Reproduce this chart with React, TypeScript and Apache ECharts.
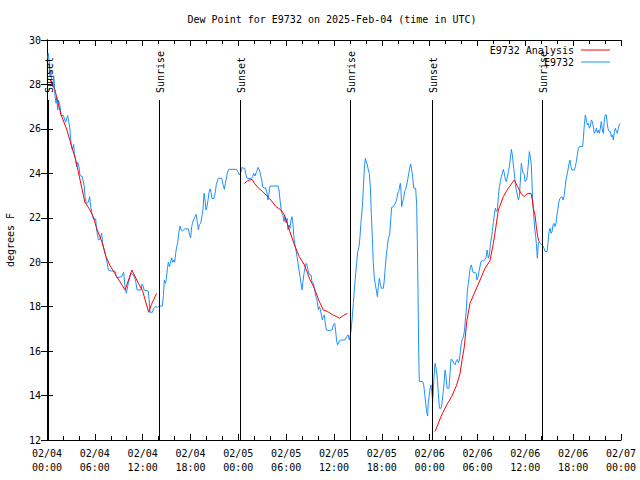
import React, { useEffect, useRef } from "react";
import * as echarts from "echarts";

const titleText = "Dew Point for E9732 on 2025-Feb-04 (time in UTC)";
const xTickLabels = [
  "02/04\n00:00", "02/04\n06:00", "02/04\n12:00", "02/04\n18:00",
  "02/05\n00:00", "02/05\n06:00", "02/05\n12:00", "02/05\n18:00",
  "02/06\n00:00", "02/06\n06:00", "02/06\n12:00", "02/06\n18:00",
  "02/07\n00:00",
];
const eventHours = [0.15, 14.08, 24.25, 38.05, 48.35, 62.15];
const eventLabels = ["Sunset", "Sunrise", "Sunset", "Sunrise", "Sunset", "Sunrise"];
const eventTop = 27.3;

// hours since 02/04 00:00 UTC, degrees F
const analysisSeg1: [number, number][] = [
  [0.35, 28.25], [1.0, 27.75], [1.2, 27.45], [1.75, 26.65], [2.5, 25.95], [3.1, 25.2],
  [3.6, 24.6], [4.15, 23.7], [4.75, 22.7], [5.4, 22.35], [5.8, 22.05], [6.25, 21.5],
  [6.9, 20.9], [7.4, 20.25], [7.9, 19.85], [8.75, 19.35], [9.8, 18.75], [10.65, 19.65],
  [11.4, 19.1], [12.0, 18.7], [12.75, 17.75], [13.1, 18.1], [13.75, 18.6],
];
const analysisSeg2: [number, number][] = [
  [24.76, 23.55], [25.17, 23.67], [25.72, 23.73], [26.01, 23.55], [26.55, 23.33],
  [27.05, 23.18], [27.89, 22.88], [28.73, 22.5], [29.35, 22.35], [29.77, 22.13],
  [30.4, 21.45], [31.03, 20.78], [31.65, 20.25], [32.28, 19.88], [32.91, 19.28],
  [33.53, 18.83], [34.16, 18.23], [34.66, 17.85], [35.21, 17.78], [35.83, 17.63],
  [36.34, 17.55], [36.67, 17.48], [37.17, 17.6], [37.67, 17.7],
];
const analysisSeg3: [number, number][] = [
  [48.67, 12.38], [49.51, 13.13], [50.14, 13.58], [50.76, 13.95], [51.39, 14.48],
  [51.81, 15.0], [52.1, 15.68], [52.35, 16.2], [52.65, 17.33], [53.06, 18.15],
  [53.69, 18.68], [54.32, 19.2], [54.95, 19.73], [55.57, 20.07], [55.99, 20.85],
  [56.28, 21.53], [56.62, 22.35], [57.24, 22.95], [57.87, 23.33], [58.37, 23.58],
  [58.62, 23.7], [59.04, 23.4], [59.46, 23.1], [59.84, 22.95], [60.17, 23.07],
  [60.71, 23.1], [60.88, 22.8], [61.0, 22.43], [61.21, 22.13], [61.38, 21.6],
  [61.55, 21.15], [61.72, 20.93],
];

const observed: [number, number][] = [
  [0.05, 29.1], [0.17, 29.4], [0.29, 28.95], [0.38, 28.35], [0.5, 28.6], [0.59, 28.05],
  [0.75, 27.9], [0.84, 28.4], [0.92, 28.05], [1.0, 27.5], [1.13, 27.15], [1.21, 27.45],
  [1.34, 26.85], [1.42, 27.3], [1.59, 27.15], [1.76, 26.6], [2.05, 26.6], [2.34, 26.3],
  [2.59, 26.6], [2.76, 26.25], [2.89, 25.95], [3.01, 25.35], [3.18, 25.05], [3.35, 25.3],
  [3.43, 24.9], [3.6, 24.6], [3.72, 24.3], [3.85, 24.5], [4.01, 24.3], [4.14, 23.9],
  [4.43, 23.85], [4.68, 23.4], [4.77, 22.95], [4.93, 22.65], [5.18, 22.7], [5.35, 22.95],
  [5.48, 22.5], [5.64, 22.2], [5.81, 21.95], [6.1, 21.95], [6.23, 21.45], [6.44, 21.0],
  [6.65, 21.05], [6.86, 21.3], [6.98, 20.85], [7.15, 20.6], [7.36, 20.3], [7.53, 20.0],
  [7.69, 19.65], [8.11, 19.6], [8.53, 19.6], [8.74, 19.3], [9.36, 19.35], [9.62, 19.55],
  [9.78, 18.9], [9.95, 18.6], [10.2, 19.05], [10.5, 19.5], [10.8, 19.45], [11.1, 19.2],
  [11.3, 18.75], [11.8, 18.75], [11.9, 19.0], [12.0, 19.0], [12.17, 18.75], [12.7, 18.7],
  [12.84, 18.2], [12.92, 17.75], [13.22, 17.75], [13.34, 17.9], [13.55, 18.0], [13.84, 17.97],
  [14.18, 18.03], [14.47, 18.03], [14.6, 18.5], [14.72, 19.2], [14.85, 19.05], [14.97, 19.23],
  [15.1, 19.7], [15.22, 20.0], [15.35, 19.8], [15.47, 19.95], [15.64, 20.2], [15.77, 20.0],
  [15.9, 20.1], [16.02, 20.0], [16.14, 20.4], [16.27, 20.7], [16.4, 20.9], [16.52, 21.3],
  [16.69, 21.63], [16.85, 21.45], [16.98, 21.4], [17.27, 21.5], [17.73, 21.5], [17.9, 21.2],
  [18.02, 21.1], [18.15, 21.6], [18.27, 21.8], [18.44, 21.95], [18.57, 22.05], [18.7, 22.15],
  [18.86, 21.8], [18.99, 21.45], [19.11, 21.7], [19.28, 21.75], [19.45, 22.1], [19.57, 22.4],
  [19.7, 23.1], [19.82, 22.8], [19.95, 22.35], [20.07, 22.5], [20.2, 22.8], [20.32, 23.13],
  [20.45, 23.3], [20.57, 23.13], [20.7, 22.87], [20.95, 22.87], [21.12, 23.18], [21.24, 23.5],
  [21.41, 23.7], [21.53, 23.78], [21.91, 23.78], [22.08, 23.5], [22.25, 23.28], [22.37, 23.55],
  [22.54, 23.85], [22.62, 24.03], [22.79, 24.18], [23.79, 24.18], [23.92, 24.08], [24.13, 23.93],
  [24.34, 24.08], [24.46, 24.27], [24.63, 24.23], [24.8, 24.23], [24.96, 23.93], [25.09, 23.78],
  [25.59, 23.75], [25.8, 23.85], [25.93, 24.0], [26.09, 23.88], [26.3, 24.08], [26.47, 24.27],
  [26.64, 24.15], [26.76, 23.97], [26.93, 23.7], [27.05, 23.4], [27.26, 23.33], [27.39, 23.37],
  [27.56, 23.18], [27.72, 22.8], [27.85, 23.1], [27.97, 23.43], [28.98, 23.43], [29.1, 23.25],
  [29.23, 22.8], [29.35, 22.43], [29.48, 22.2], [29.6, 22.12], [29.73, 21.83], [29.86, 22.05],
  [29.98, 21.78], [30.11, 21.98], [30.23, 21.45], [30.36, 21.68], [30.48, 21.53], [30.61, 21.9],
  [30.73, 22.05], [30.86, 21.68], [30.98, 21.08], [31.11, 20.78], [31.23, 20.55], [31.36, 20.25],
  [31.49, 19.95], [31.61, 19.65], [31.74, 19.35], [31.86, 19.05], [31.99, 18.75], [32.11, 19.13],
  [32.24, 19.5], [32.36, 19.73], [32.49, 19.95], [32.61, 19.88], [32.74, 19.65], [32.91, 19.43],
  [33.12, 19.43], [33.24, 19.13], [33.41, 19.05], [33.58, 18.75], [33.74, 18.45], [33.91, 18.23],
  [34.04, 17.85], [34.16, 18.0], [34.29, 17.88], [34.41, 17.63], [34.54, 17.4], [34.66, 17.55],
  [34.79, 17.63], [34.91, 17.25], [35.04, 16.95], [35.42, 16.92], [35.75, 16.95], [35.92, 17.18],
  [36.09, 17.25], [36.21, 16.88], [36.34, 16.43], [36.46, 16.28], [36.67, 16.46], [36.92, 16.5],
  [37.38, 16.5], [37.59, 16.65], [37.76, 16.73], [37.92, 16.5], [38.13, 16.88], [38.26, 17.4],
  [38.43, 18.15], [38.55, 18.75], [38.72, 19.5], [38.84, 19.95], [38.97, 20.48], [39.14, 20.7],
  [39.26, 21.15], [39.39, 21.83], [39.56, 22.5], [39.68, 23.33], [39.81, 24.23], [39.93, 24.68],
  [40.06, 24.53], [40.18, 24.38], [40.31, 24.15], [40.43, 24.0], [40.56, 23.4], [40.68, 22.2],
  [40.81, 21.08], [40.93, 19.95], [41.06, 19.28], [41.19, 18.98], [41.31, 18.75], [41.44, 18.45],
  [41.56, 18.9], [41.69, 19.28], [41.81, 19.05], [41.94, 18.83], [42.19, 18.83], [42.31, 19.2],
  [42.44, 19.8], [42.57, 20.33], [42.69, 20.7], [42.82, 21.08], [42.98, 21.23], [43.11, 21.9],
  [43.23, 22.47], [43.44, 22.5], [43.65, 22.62], [43.78, 22.73], [43.9, 22.88], [43.99, 23.1],
  [44.11, 23.18], [44.24, 23.43], [44.32, 23.55], [44.4, 23.25], [44.49, 22.5], [44.61, 22.73],
  [44.74, 22.88], [44.86, 23.18], [44.99, 23.28], [45.12, 23.48], [45.24, 23.7], [45.37, 24.0],
  [45.49, 24.23], [45.62, 24.42], [45.74, 24.15], [45.87, 23.85], [46.0, 23.33], [46.24, 23.33],
  [46.37, 22.58], [46.45, 20.93], [46.54, 18.68], [46.62, 16.05], [46.7, 14.63], [47.12, 14.63],
  [47.25, 14.48], [47.37, 14.1], [47.5, 13.65], [47.62, 13.28], [47.75, 13.08], [47.8, 13.58],
  [47.92, 13.95], [48.05, 14.33], [48.17, 14.48], [48.26, 14.18], [48.38, 13.73], [48.55, 14.85],
  [48.67, 15.45], [48.8, 15.23], [48.92, 14.93], [49.09, 14.1], [49.22, 13.43], [49.43, 13.43],
  [49.55, 13.65], [49.68, 14.1], [49.8, 14.55], [49.93, 15.15], [50.05, 14.85], [50.18, 14.33],
  [50.43, 14.33], [50.55, 15.0], [50.68, 15.63], [50.85, 15.6], [51.02, 15.45], [51.18, 15.38],
  [51.35, 15.57], [51.47, 15.63], [51.6, 15.48], [51.73, 15.6], [51.85, 15.98], [51.98, 16.38],
  [52.1, 16.53], [52.23, 16.65], [52.35, 16.88], [52.48, 17.4], [52.6, 17.85], [52.73, 18.75],
  [52.85, 19.05], [52.98, 19.43], [53.1, 19.8], [53.23, 19.88], [53.36, 19.65], [53.48, 19.53],
  [53.69, 19.53], [53.82, 19.5], [53.94, 19.2], [54.07, 19.35], [54.19, 19.58], [54.32, 19.83],
  [54.44, 20.03], [54.61, 20.07], [54.78, 20.07], [54.95, 20.13], [55.07, 20.22], [55.2, 20.55],
  [55.28, 20.4], [55.36, 20.18], [55.49, 20.33], [55.61, 20.78], [55.74, 21.08], [55.86, 21.38],
  [55.99, 21.78], [56.12, 22.13], [56.24, 22.43], [56.37, 22.28], [56.49, 22.35], [56.62, 22.95],
  [56.74, 23.4], [56.87, 23.63], [56.99, 23.85], [57.12, 24.0], [57.24, 24.18], [57.37, 24.0],
  [57.5, 23.7], [57.62, 23.63], [57.75, 23.85], [57.87, 24.08], [58.0, 24.3], [58.12, 24.68],
  [58.25, 25.08], [58.37, 24.83], [58.5, 24.38], [58.62, 24.0], [58.75, 23.48], [58.87, 23.25],
  [59.0, 23.03], [59.13, 22.8], [59.25, 22.95], [59.38, 23.7], [59.5, 24.45], [59.63, 24.15],
  [59.75, 24.0], [59.88, 23.93], [59.96, 23.63], [60.17, 23.7], [60.29, 24.08], [60.42, 24.6],
  [60.5, 24.98], [60.63, 24.75], [60.75, 24.38], [60.84, 23.55], [60.92, 22.8], [61.05, 22.13],
  [61.17, 21.53], [61.3, 21.15], [61.38, 20.85], [61.51, 20.18], [61.63, 20.85], [61.76, 20.93],
  [61.88, 20.85], [62.05, 20.78], [62.22, 20.73], [62.34, 20.63], [62.47, 20.48], [62.72, 20.48],
  [62.84, 20.85], [62.97, 21.38], [63.1, 21.53], [63.22, 21.3], [63.35, 21.38], [63.47, 21.68],
  [63.6, 21.75], [63.72, 21.6], [63.85, 21.75], [63.97, 22.13], [64.1, 22.43], [64.22, 22.73],
  [64.35, 22.88], [64.47, 22.92], [64.6, 22.95], [64.73, 22.8], [64.85, 22.95], [64.98, 23.33],
  [65.1, 23.7], [65.23, 23.93], [65.35, 24.15], [65.48, 24.45], [65.6, 24.6], [65.73, 24.3],
  [65.85, 24.15], [66.15, 24.15], [66.27, 24.3], [66.4, 24.53], [66.52, 24.83], [66.65, 25.13],
  [66.77, 25.2], [67.19, 25.2], [67.28, 25.58], [67.4, 26.18], [67.53, 26.63], [67.65, 26.4],
  [67.78, 26.18], [67.9, 26.25], [68.03, 26.03], [68.15, 26.1], [68.28, 26.4], [68.4, 26.33],
  [68.53, 26.1], [68.66, 25.8], [68.78, 25.88], [68.91, 26.03], [69.03, 25.83], [69.16, 25.95],
  [69.28, 25.8], [69.41, 26.03], [69.53, 26.33], [69.66, 25.95], [69.78, 25.8], [69.91, 26.4],
  [70.03, 26.63], [70.16, 26.63], [70.29, 26.18], [70.41, 25.95], [70.54, 25.88], [70.66, 25.88],
  [70.79, 25.65], [70.91, 25.73], [71.04, 25.5], [71.17, 25.88], [71.29, 26.03], [71.42, 25.88],
  [71.54, 25.8], [71.67, 26.03], [71.79, 26.18], [71.88, 26.25],
];

const FONT = "DejaVu Sans Mono";

export default function App() {
  const ref = useRef<HTMLDivElement>(null);
  useEffect(() => {
    if (!ref.current) return;
    const chart = echarts.init(ref.current, null, { renderer: "svg" });
    const analysis: any[] = [
      ...analysisSeg1,
      [14, "-"],
      ...analysisSeg2,
      [38, "-"],
      ...analysisSeg3,
    ];
    const axisCommonX = {
      type: "value",
      min: 0,
      max: 72,
      interval: 6,
      axisLine: { show: true, lineStyle: { color: "#000", width: 1 } },
      axisTick: { show: true, inside: true, length: 6, lineStyle: { color: "#000" } },
      minorTick: { show: true, splitNumber: 3, length: 4, lineStyle: { color: "#000" } },
      splitLine: { show: false },
    };
    const axisCommonY = {
      type: "value",
      min: 12,
      max: 30,
      interval: 2,
      axisLine: { show: true, lineStyle: { color: "#000", width: 1 } },
      axisTick: { show: true, inside: true, length: 6, lineStyle: { color: "#000" } },
      splitLine: { show: false },
    };
    chart.setOption({
      animation: false,
      backgroundColor: "#fff",
      grid: {
        left: 47, right: 19, top: 40, bottom: 40,
        containLabel: false,
        outerBoundsMode: "none",
      },
      legend: {
        orient: "vertical",
        right: 30,
        top: 44,
        align: "right",
        icon: "rect",
        itemWidth: 29,
        itemHeight: 1,
        itemGap: 0,
        padding: 0,
        data: ["E9732 Analysis", "E9732"],
        textStyle: {
          fontFamily: FONT, fontSize: 10, color: "#000",
          lineHeight: 12, padding: [0, 2, 0, 0],
        },
      },
      xAxis: [
        {
          ...axisCommonX,
          position: "bottom",
          axisLabel: {
            formatter: (v: number) => xTickLabels[Math.round(v / 6)] ?? "",
            color: "#000",
            fontFamily: FONT,
            fontSize: 10,
            lineHeight: 14,
            margin: 6,
          },
        },
        { ...axisCommonX, position: "top", axisLabel: { show: false } },
      ],
      yAxis: [
        {
          ...axisCommonY,
          position: "left",
          name: "degrees F",
          nameLocation: "middle",
          nameRotate: 90,
          nameGap: 32,
          nameTextStyle: { fontFamily: FONT, fontSize: 10, color: "#000" },
          axisLabel: { color: "#000", fontFamily: FONT, fontSize: 10, margin: 6 },
        },
        { ...axisCommonY, position: "right", axisLabel: { show: false } },
      ],
      series: [
        {
          name: "E9732 Analysis",
          type: "line",
          data: analysis,
          symbol: "none",
          connectNulls: false,
          lineStyle: { color: "#ff0000", width: 1 },
          itemStyle: { color: "#ff0000" },
          z: 4,
        },
        {
          name: "E9732",
          type: "line",
          data: observed,
          symbol: "none",
          lineStyle: { color: "#1e90ff", width: 1 },
          itemStyle: { color: "#1e90ff" },
          z: 3,
          markLine: {
            silent: true,
            symbol: "none",
            label: { show: false },
            lineStyle: { color: "#000", width: 1, type: "solid" },
            data: eventHours.map((h) => [
              { coord: [h, 12] },
              { coord: [h, eventTop] },
            ]),
          },
        },
      ],
    });
    const [cx, ty] = chart.convertToPixel({ gridIndex: 0 }, [36, 30]) as number[];
    const eventTexts = eventHours.map((h, i) => {
      const [px, py] = chart.convertToPixel({ gridIndex: 0 }, [h, eventTop]) as number[];
      return {
        type: "text",
        x: px + 1,
        y: py - 7,
        rotation: Math.PI / 2,
        z: 10,
        style: {
          text: eventLabels[i],
          fill: "#000",
          font: `10px "${FONT}"`,
          align: "left",
          verticalAlign: "middle",
          textAlign: "left",
          textVerticalAlign: "middle",
        },
      };
    });
    chart.setOption({
      graphic: [
        {
          type: "text",
          x: cx - 2,
          y: ty - 21,
          z: 10,
          style: {
            text: titleText,
            fill: "#000",
            font: `10px "${FONT}"`,
            align: "center",
            verticalAlign: "middle",
            textAlign: "center",
            textVerticalAlign: "middle",
          },
        },
        ...eventTexts,
      ],
    });
    return () => chart.dispose();
  }, []);
  return (
    <div
      ref={ref}
      style={{ position: "fixed", left: 0, top: 0, width: 640, height: 480 }}
    />
  );
}
